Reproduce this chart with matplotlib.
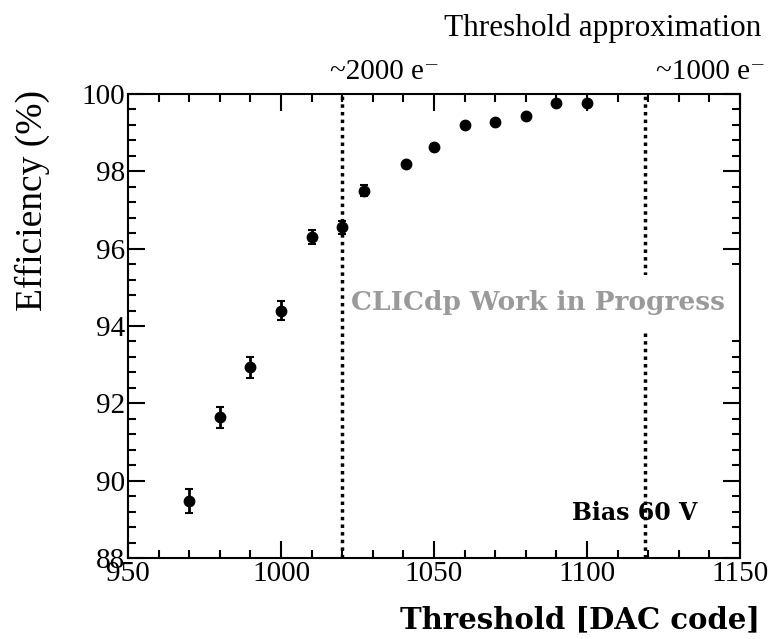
import matplotlib
matplotlib.use("Agg")
import matplotlib.pyplot as plt
from matplotlib.ticker import MultipleLocator
import matplotlib.transforms as mtransforms

threshold = [970, 980, 990, 1000, 1010, 1020, 1027, 1041, 1050, 1060, 1070, 1080, 1090, 1100]
efficiency = [89.48, 91.64, 92.93, 94.40, 96.29, 96.55, 97.50, 98.18, 98.64, 99.21, 99.28, 99.44, 99.76, 99.78]
eff_err = [0.31, 0.27, 0.27, 0.25, 0.18, 0.17, 0.14, 0.06, 0.06, 0.05, 0.05, 0.05, 0.04, 0.04]
approx_lines = [1020, 1119]
approx_labels = ["~2000 e\u207b", "~1000 e\u207b"]

serif = ["Liberation Serif", "DejaVu Serif"]
bold_serif = ["DejaVu Serif"]
plt.rcParams['font.family'] = serif

fig = plt.figure(figsize=(7.68, 6.39), dpi=100)
ax = fig.add_axes([0.1667, 0.1268, 0.7968, 0.7261])

ax.errorbar(threshold, efficiency, yerr=eff_err, fmt='o', color='black',
            markersize=7.5, elinewidth=2, capsize=3, capthick=1.5, zorder=3)

# first line drawn above the watermark box, second line hidden behind it
ax.axvline(approx_lines[0], color='black', linestyle=(0, (1, 1.2)), linewidth=2.5, zorder=2.5)
ax.axvline(approx_lines[1], color='black', linestyle=(0, (1, 1.2)), linewidth=2.5, zorder=1)

ax.set_xlim(950, 1150)
ax.set_ylim(88, 100)
ax.xaxis.set_major_locator(MultipleLocator(50))
ax.xaxis.set_minor_locator(MultipleLocator(10))
ax.yaxis.set_major_locator(MultipleLocator(2))
ax.yaxis.set_minor_locator(MultipleLocator(0.4))
ax.tick_params(which='both', direction='in', top=True, right=True, width=1.5)
ax.tick_params(which='major', length=12, labelsize=21, pad=2)
ax.tick_params(which='minor', length=6)
for s in ax.spines.values():
    s.set_linewidth(1.5)

fig.text(0.99, 0.030, "Threshold [DAC code]", fontsize=21, fontweight='bold',
         family=bold_serif, ha='right', va='center')
fig.text(0.042, 0.859, "Efficiency (%)", fontsize=27, rotation=90,
         ha='center', va='top')

ax.text(1145, 94.6, "CLICdp Work in Progress", color='#9a9a9a', fontsize=19,
        fontweight='bold', family=bold_serif, ha='right', va='center',
        bbox=dict(facecolor='white', edgecolor='none', pad=11), zorder=2)
ax.text(1136, 89.17, "Bias 60 V", color='black', fontsize=17, fontweight='bold',
        family=bold_serif, ha='right', va='center', zorder=4)

trans = mtransforms.blended_transform_factory(ax.transData, ax.transAxes)
ax.text(1034, 1.047, approx_labels[0], transform=trans, fontsize=21, ha='center', va='center')
ax.text(1140.5, 1.047, approx_labels[1], transform=trans, fontsize=21, ha='center', va='center', clip_on=False)
fig.text(0.992, 0.956, "Threshold approximation", fontsize=22.5, ha='right', va='center')

fig.savefig("out.png", dpi=100)
